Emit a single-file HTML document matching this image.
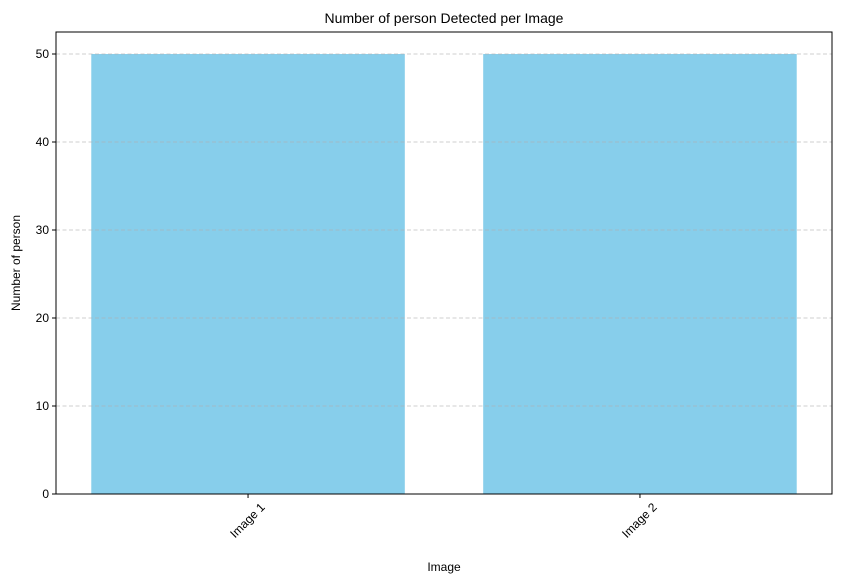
<!DOCTYPE html>
<html><head><meta charset="utf-8"><style>
body{margin:0;background:#fff;}
svg text{font-family:"Liberation Sans","DejaVu Sans",sans-serif;fill:#000;}
</style></head><body>
<svg id="chart" width="841" height="583" viewBox="0 0 841 583" xmlns="http://www.w3.org/2000/svg">
<rect width="841" height="583" fill="#fff"/>
<text x="444" y="23" font-size="14" text-anchor="middle">Number of person Detected per Image</text>
<g id="bars"></g><g id="grid"></g><g id="yticks"></g><g id="xticks"></g>
<rect x="56" y="32" width="776" height="462" fill="none" stroke="#000" stroke-width="1"/>
<text x="444" y="571" font-size="12" text-anchor="middle">Image</text>
<text transform="translate(20,263) rotate(-90)" font-size="12" text-anchor="middle">Number of person</text>
</svg>
<script>
const categories = ["Image 1", "Image 2"];
const values = [50, 50];
const yTicks = [0, 10, 20, 30, 40, 50];
const L=56,R=832,T=32,B=494,ymax=52.5,xmin=-0.49,xmax=1.49;
const ns="http://www.w3.org/2000/svg";
const y=v=>B-(v/ymax)*(B-T);
const x=v=>L+(v-xmin)/(xmax-xmin)*(R-L);
function mk(t,a,p){const e=document.createElementNS(ns,t);for(const k in a)e.setAttribute(k,a[k]);p.appendChild(e);return e;}
const g=document.getElementById('grid'),bs=document.getElementById('bars'),yt=document.getElementById('yticks'),xt=document.getElementById('xticks');
yTicks.forEach(v=>{
 const l=mk('line',{x1:L,x2:R,y1:y(v),y2:y(v),stroke:'#b0b0b0','stroke-dasharray':'4,2.5','stroke-width':0.8,opacity:0.8},g);
 
 
 const tk=mk('line',{x1:L-4,x2:L,y1:y(v),y2:y(v),stroke:'#000'},yt);
 
 
 const t=mk('text',{x:L-7,y:y(v)+4,'font-size':12,'text-anchor':'end'},yt);t.textContent=v;
 
 
});
categories.forEach((c,i)=>{
 const r=mk('rect',{x:x(i-0.4),y:y(values[i]),width:x(i+0.4)-x(i-0.4),height:y(0)-y(values[i]),fill:'#87ceeb'},bs);
 
 
 const tk=mk('line',{x1:x(i),x2:x(i),y1:B,y2:B+4,stroke:'#000'},xt);
 
 
 const t=mk('text',{transform:`translate(${x(i)},${B+27}) rotate(-45)`,'font-size':12,'text-anchor':'middle','dominant-baseline':'middle'},xt);t.textContent=c;
 
 
});
</script>
</body></html>
